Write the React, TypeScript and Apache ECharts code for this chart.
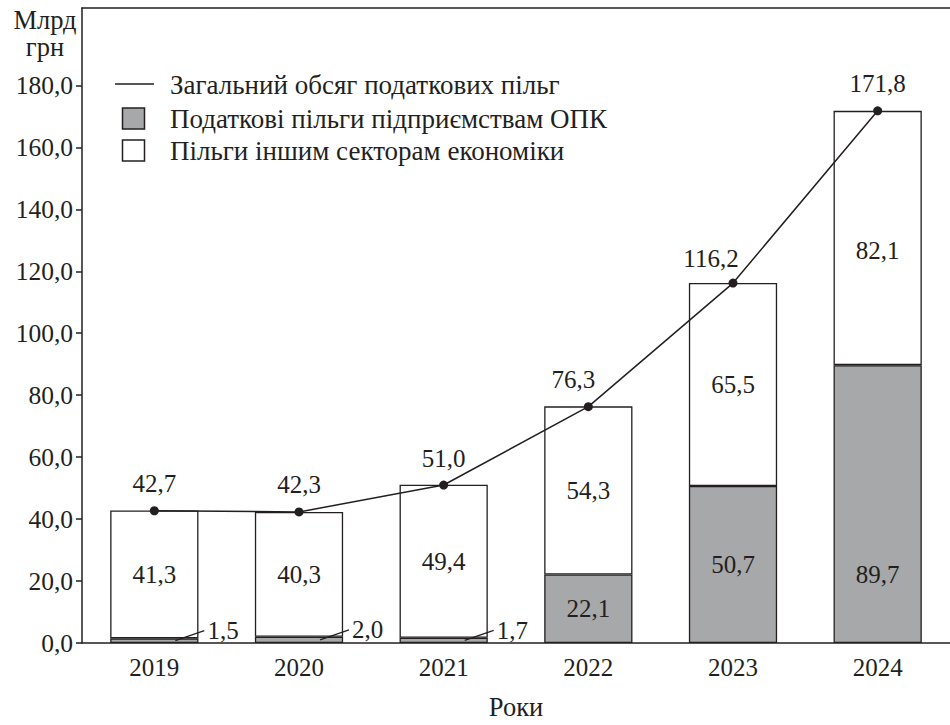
import React, { useEffect, useRef } from "react";
import * as echarts from "echarts";

const years = ["2019", "2020", "2021", "2022", "2023", "2024"];
const opkValues = [1.5, 2.0, 1.7, 22.1, 50.7, 89.7];
const otherValues = [41.3, 40.3, 49.4, 54.3, 65.5, 82.1];
const totalValues = [42.7, 42.3, 51.0, 76.3, 116.2, 171.8];
const yTickValues = [0, 20, 40, 60, 80, 100, 120, 140, 160, 180];
const seriesNames = [
  "Загальний обсяг податкових пільг",
  "Податкові пільги підприємствам ОПК",
  "Пільги іншим секторам економіки",
];
const yUnit = "Млрд\nгрн";
const xName = "Роки";

const INK = "#231f20";
const GRAY = "#a7a8aa";
const FONT = "'Liberation Serif', serif";
const FS = 25;

const fmt = (v: number) => v.toFixed(1).replace(".", ",");

export default function App() {
  const ref = useRef<HTMLDivElement>(null);

  useEffect(() => {
    if (!ref.current) return;
    const chart = echarts.init(ref.current, null, { renderer: "svg" });

    const opkData = opkValues.map((v, i) => {
      if (v < 5) {
        return {
          value: v,
          label: { show: true, position: "right", distance: 9, offset: [0, -10] },
        };
      }
      if (i === 5) return { value: v, label: { show: true, position: "inside", offset: [0, 70] } };
      return { value: v, label: { show: true, position: "inside" } };
    });
    const otherData = otherValues.map((v, i) => {
      if (i === 5) return { value: v, label: { show: true, position: "inside", offset: [0, 13] } };
      return { value: v };
    });
    const totalData = totalValues.map((v, i) => {
      if (i === 3) return { value: v, label: { offset: [-15, 0] } };
      if (i === 4) return { value: v, label: { offset: [-22, 2] } };
      return { value: v };
    });

    const textStyle = { fontFamily: FONT, fontSize: FS, color: INK };

    chart.setOption({
      animation: false,
      textStyle: { fontFamily: FONT },
      grid: { left: 82, top: 8, width: 876, height: 640, containLabel: false },
      xAxis: [
        {
          type: "category",
          data: years,
          name: xName,
          nameLocation: "middle",
          nameGap: 50,
          nameTextStyle: { ...textStyle, fontSize: 26.5 },
          axisLine: { show: true, lineStyle: { color: INK, width: 1.5 } },
          axisTick: { show: false },
          axisLabel: { ...textStyle, margin: 12 },
          splitLine: { show: false },
        },
        {
          type: "category",
          data: years,
          position: "top",
          axisLine: { show: true, onZero: false, lineStyle: { color: INK, width: 1.5 } },
          axisTick: { show: false },
          axisLabel: { show: false },
          splitLine: { show: false },
        },
      ],
      yAxis: {
        type: "value",
        min: 0,
        max: 205,
        interval: 20,
        axisLine: { show: true, lineStyle: { color: INK, width: 1.5 } },
        axisTick: {
          show: true,
          length: 6,
          customValues: yTickValues,
          lineStyle: { color: INK, width: 1.5 },
        },
        axisLabel: {
          ...textStyle,
          fontSize: 25.5,
          margin: 9,
          customValues: yTickValues,
          formatter: (v: number) => fmt(v),
        },
        splitLine: { show: false },
      },
      series: [
        {
          name: seriesNames[1],
          type: "bar",
          stack: "total",
          barWidth: "61%",
          data: opkData,
          itemStyle: { color: GRAY, borderColor: INK, borderWidth: 1.3 },
          label: { show: true, ...textStyle, formatter: (p: any) => fmt(p.value) },
          z: 2,
        },
        {
          name: seriesNames[2],
          type: "bar",
          stack: "total",
          barWidth: "61%",
          data: otherData,
          itemStyle: { color: "#ffffff", borderColor: INK, borderWidth: 1.3 },
          label: { show: true, position: "inside", ...textStyle, formatter: (p: any) => fmt(p.value) },
          z: 2,
        },
        {
          name: seriesNames[0],
          type: "line",
          data: totalData,
          symbol: "circle",
          symbolSize: 9,
          itemStyle: { color: INK },
          lineStyle: { color: INK, width: 1.5 },
          label: {
            show: true,
            position: "top",
            distance: 10,
            ...textStyle,
            formatter: (p: any) => fmt(p.value),
          },
          z: 5,
        },
      ],
    });

    const leaders: any[] = [];
    for (let i = 0; i < opkValues.length; i++) {
      if (opkValues[i] >= 5) continue;
      const p = chart.convertToPixel({ xAxisIndex: 0, yAxisIndex: 0 }, [i, opkValues[i] / 2]) as number[];
      leaders.push({
        type: "line",
        shape: { x1: p[0] + 21, y1: p[1], x2: p[0] + 50, y2: p[1] - 10 },
        style: { stroke: INK, lineWidth: 1.2 },
        z: 10,
      });
    }

    chart.setOption({
      graphic: [
        {
          type: "text",
          x: 45,
          y: 33,
          style: {
            text: yUnit,
            fontFamily: FONT,
            fontSize: 26.5,
            fill: INK,
            align: "center",
            verticalAlign: "middle",
            lineHeight: 27,
          },
        },
        { type: "line", shape: { x1: 115, y1: 84, x2: 154, y2: 84 }, style: { stroke: INK, lineWidth: 1.5 } },
        {
          type: "rect",
          shape: { x: 122.5, y: 108, width: 22, height: 21 },
          style: { fill: GRAY, stroke: INK, lineWidth: 1.5 },
        },
        {
          type: "rect",
          shape: { x: 122.5, y: 140, width: 22, height: 21 },
          style: { fill: "#ffffff", stroke: INK, lineWidth: 1.5 },
        },
        ...seriesNames.map((n, k) => ({
          type: "text",
          x: 170,
          y: [85, 118.5, 151][k],
          style: { text: n, fontFamily: FONT, fontSize: 27, fill: INK, verticalAlign: "middle" },
        })),
        ...leaders,
      ],
    });

    return () => chart.dispose();
  }, []);

  return (
    <div
      ref={ref}
      style={{ position: "fixed", left: 0, top: 0, width: 950, height: 725, background: "#fff" }}
    />
  );
}
